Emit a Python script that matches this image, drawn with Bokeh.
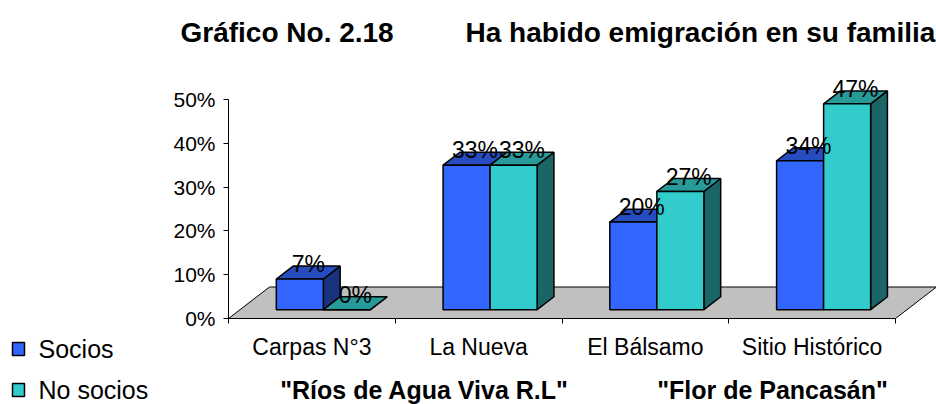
from bokeh.plotting import figure
from bokeh.layouts import row, column
from bokeh.models import Range1d, FixedTicker, PrintfTickFormatter, ColumnDataSource
from bokeh.core.properties import value
from bokeh.embed import file_html
from bokeh.resources import INLINE

# ---------------- data ----------------
categories = ["Carpas N°3", "La Nueva", "El Bálsamo", "Sitio Histórico"]
socios = [7, 33, 20, 34]
no_socios = [0, 33, 27, 47]
series_names = ["Socios", "No socios"]
y_ticks = [0, 10, 20, 30, 40, 50]
group_labels = ['"Ríos de Agua Viva R.L"', '"Flor de Pancasán"']
title_parts = ["Gráfico No. 2.18", "Ha habido emigración en su familia"]

# ---------------- layout / style ----------------
FONT = "Liberation Sans"
BASE_FIX = -0.36                # empirical baseline correction (em)
TOTAL_W, TOTAL_H = 936, 404
LEG_W = 160                     # left strip holding the legend
MAIN_W = TOTAL_W - LEG_W
TOP_H, BOT_H = 50, 30           # title strip, group-label strip
MAIN_H = TOTAL_H - TOP_H - BOT_H
FRAME_LEFT, FRAME_TOP, FRAME_BOTTOM = 228, 60, 318   # page px
ML = FRAME_LEFT - LEG_W
MT = FRAME_TOP - TOP_H
MB = TOP_H + MAIN_H - FRAME_BOTTOM
FRAME_W = MAIN_W - ML
FRAME_H = MAIN_H - MT - MB
KX = 166.75          # px per category
KY = 4.38            # px per percent point
X_END = FRAME_W / KX
Y_END = FRAME_H / KY

BAR_W = 0.282
GAP = (1 - 2 * BAR_W) / 2
FDX, FDY = 41 / KX, 31.5 / KY          # floor depth
BX0, BY0 = 0.28 * FDX, 0.28 * FDY      # bar position inside the depth
BDX, BDY = 0.41 * FDX, 0.41 * FDY      # bar depth

front_cols = ["#3366FF", "#33CCCC"]
top_cols = ["#264CBF", "#289A9A"]
side_cols = ["#1A3380", "#1A6666"]


def clean(fig):
    fig.outline_line_color = None
    fig.xgrid.visible = False
    fig.ygrid.visible = False
    fig.background_fill_color = "white"
    fig.border_fill_color = "white"


def strip(w, h, x0, y0):
    """A blank figure whose data coordinates are page pixels."""
    f = figure(width=w, height=h, output_backend="svg", toolbar_location=None,
               x_range=Range1d(x0, x0 + w), y_range=Range1d(y0 + h, y0),
               x_axis_type=None, y_axis_type=None,
               min_border_left=0, min_border_right=0, min_border_top=0,
               min_border_bottom=0)
    clean(f)
    return f


# ---------------- main chart ----------------
p = figure(width=MAIN_W, height=MAIN_H, output_backend="svg", toolbar_location=None,
           x_range=Range1d(0, X_END), y_range=Range1d(0, Y_END),
           min_border_left=ML, min_border_right=0, min_border_top=MT,
           min_border_bottom=MB)
clean(p)

n = len(categories)
p.patch([0, n, n + FDX, FDX], [0, 0, FDY, FDY], fill_color="#C0C0C0",
        line_color="black", line_width=1)

label_x, label_y, label_t = [], [], []
for k, vals in enumerate([socios, no_socios]):
    lefts, rights, bottoms, tops = [], [], [], []
    txs, tys, sxs, sys_ = [], [], [], []
    for i, v in enumerate(vals):
        l = i + GAP + BX0 + k * BAR_W
        r = l + BAR_W
        b = BY0
        t = BY0 + v
        lefts.append(l); rights.append(r); bottoms.append(b); tops.append(t)
        txs.append([l, r, r + BDX, l + BDX]); tys.append([t, t, t + BDY, t + BDY])
        sxs.append([r, r + BDX, r + BDX, r]); sys_.append([b, b + BDY, t + BDY, t])
        label_x.append((l + r) / 2 + BDX / 2)
        label_y.append(t + BDY / 2)
        label_t.append(f"{v}%")
    p.patches(sxs, sys_, fill_color=side_cols[k], line_color="black", line_width=1.5)
    p.patches(txs, tys, fill_color=top_cols[k], line_color="black", line_width=1.5)
    p.quad(left=lefts, right=rights, bottom=bottoms, top=tops,
           fill_color=front_cols[k], line_color="black", line_width=1.5)

src = ColumnDataSource(dict(x=label_x, y=label_y, t=label_t))
p.text(x="x", y="y", text="t", source=src, text_align="center",
       text_baseline="alphabetic", text_font=value(FONT),
       text_font_size=value("23px"), text_color="black", y_offset=BASE_FIX * 23)

ya = p.yaxis[0]
ya.ticker = FixedTicker(ticks=y_ticks, minor_ticks=[])
ya.formatter = PrintfTickFormatter(format="%d%%")
ya.bounds = (y_ticks[0], y_ticks[-1])
ya.axis_line_color = "black"
ya.major_tick_line_color = "black"
ya.major_tick_out = 5
ya.major_tick_in = 0
ya.minor_tick_line_color = None
ya.major_label_text_font = FONT
ya.major_label_text_font_size = "21px"
ya.major_label_text_color = "black"
ya.major_label_standoff = 8

xa = p.xaxis[0]
centers = [i + 0.5 for i in range(n)]
xa.ticker = FixedTicker(ticks=centers, minor_ticks=list(range(n + 1)))
xa.major_label_overrides = {c: name for c, name in zip(centers, categories)}
xa.bounds = (0, n)
xa.axis_line_color = "black"
xa.major_tick_line_color = None
xa.major_tick_out = 0
xa.major_tick_in = 0
xa.minor_tick_line_color = "black"
xa.minor_tick_out = 5
xa.minor_tick_in = 0
xa.major_label_text_font = FONT
xa.major_label_text_font_size = "23px"
xa.major_label_text_color = "black"
xa.major_label_standoff = 10

# ---------------- title strip ----------------
tp = strip(MAIN_W, TOP_H, LEG_W, 0)
tp.text(x=[180, 465], y=[42, 42], text=title_parts, text_align="left",
        text_baseline="alphabetic", text_font=value(FONT), text_font_style="bold",
        text_font_size=value("28px"), text_color="black", y_offset=BASE_FIX * 28)

# ---------------- group-label strip ----------------
gp = strip(MAIN_W, BOT_H, LEG_W, TOP_H + MAIN_H)
gp.text(x=[424, 772], y=[398, 398], text=group_labels, text_align="center",
        text_baseline="alphabetic", text_font=value(FONT), text_font_style="bold",
        text_font_size=value("25px"), text_color="black", y_offset=BASE_FIX * 25)

# ---------------- legend strip ----------------
lp = strip(LEG_W, TOTAL_H, 0, 0)
lp.quad(left=[12, 12], right=[24, 24], top=[342, 383], bottom=[355, 396],
        fill_color=front_cols, line_color="black", line_width=1.5)
lp.text(x=[38, 38], y=[357, 398], text=series_names, text_align="left",
        text_baseline="alphabetic", text_font=value(FONT),
        text_font_size=value("25px"), text_color="black", y_offset=BASE_FIX * 25)

layout = row(lp, column(row(tp), p, row(gp)))
open("out.html", "w").write(file_html(layout, INLINE))
